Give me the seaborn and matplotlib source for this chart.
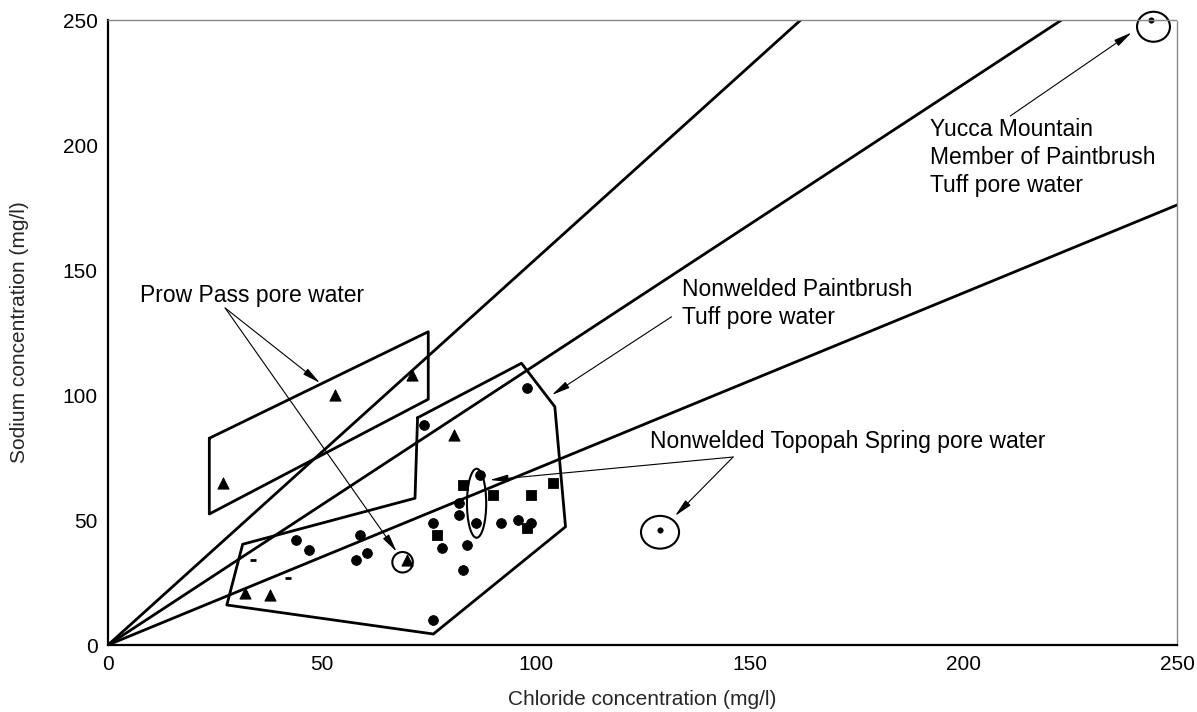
import matplotlib
matplotlib.use("Agg")
import matplotlib.pyplot as plt
from matplotlib.patches import Ellipse
import numpy as np
import pandas as pd
import seaborn as sns

sns.set_style("white")
plt.rcParams['font.family'] = ['Liberation Sans', 'DejaVu Sans']
plt.rcParams['text.color'] = 'black'

# pore water samples (Cl, Na) in mg/l
tri_cl = [27, 53, 71, 81, 32, 38, 70]
tri_na = [65, 100, 108, 84, 21, 20, 34]
dot_cl = [98, 74, 87, 82, 82, 76, 86, 92, 96, 99, 59, 44, 47, 60.5, 58, 78, 84, 83, 76]
dot_na = [103, 88, 68, 57, 52, 49, 49, 49, 50, 49, 44, 42, 38, 37, 34, 39, 40, 30, 10]
sq_cl = [83, 90, 99, 104, 98, 77]
sq_na = [64, 60, 60, 65, 47, 44]
dash_cl = [34, 42]
dash_na = [34, 27]
small_cl = [129, 244]
small_na = [46, 250]

# reference lines from origin: end points
line_end_cl = [162, 223, 250]
line_end_na = [250, 250, 176]

# outlined groups
prow_cl = [23.7, 74.9, 74.9, 23.7, 23.7]
prow_na = [82.7, 125.3, 98.3, 52.4, 82.7]
paint_cl = [72.4, 96.7, 104.5, 107, 76.1, 27.8, 31.5, 71.8, 72.4]
paint_na = [90.9, 112.7, 95.3, 47.3, 4.4, 16, 40.3, 58.7, 90.9]

fig = plt.figure(figsize=(11.97, 7.12), dpi=100)
ax = fig.add_axes([0.0902, 0.0941, 0.8931, 0.8778])

for xe, ye in zip(line_end_cl, line_end_na):
    sns.lineplot(x=[0, xe], y=[0, ye], ax=ax, color='black', lw=2.0, sort=False,
                 estimator=None)

sns.lineplot(x=prow_cl, y=prow_na, ax=ax, color='black', lw=2.0, sort=False, estimator=None)
sns.lineplot(x=paint_cl, y=paint_na, ax=ax, color='black', lw=2.0, sort=False, estimator=None)

sns.scatterplot(x=tri_cl, y=tri_na, ax=ax, marker='^', s=65, color='black', edgecolor='black')
sns.scatterplot(x=dot_cl, y=dot_na, ax=ax, marker='o', s=50, color='black', edgecolor='black')
sns.scatterplot(x=sq_cl, y=sq_na, ax=ax, marker='s', s=55, color='black', edgecolor='black')
sns.scatterplot(x=dash_cl, y=dash_na, ax=ax, marker='_', s=25, color='black', linewidth=2)
sns.scatterplot(x=small_cl, y=small_na, ax=ax, marker='o', s=16, color='black',
                edgecolor='black', clip_on=False)

# rings around highlighted samples
for (cx, cy, w, h) in [(86.2, 56.7, 4.5, 27.6), (68.9, 33.1, 4.8, 8.2),
                       (129.1, 45.1, 8.9, 13.1), (244.5, 247.3, 7.7, 12)]:
    ax.add_patch(Ellipse((cx, cy), w, h, fill=False, ec='black', lw=1.5, clip_on=False))

arrow = dict(arrowstyle='-|>,head_length=1.1,head_width=0.22', color='black', lw=0.8,
             shrinkA=0, shrinkB=0)
fs = 16.5
ax.text(7.5, 144.5, 'Prow Pass pore water', fontsize=fs, va='top')
ax.annotate('', xy=(49.6, 104.8), xytext=(27.4, 134.8), arrowprops=arrow)
ax.annotate('', xy=(67.5, 37.3), xytext=(27.4, 134.8), arrowprops=arrow)

ax.text(134.2, 147, 'Nonwelded Paintbrush\nTuff pore water', fontsize=fs, va='top',
        linespacing=1.3)
ax.annotate('', xy=(103.8, 100), xytext=(131.8, 131.3), arrowprops=arrow)

ax.text(126.8, 86, 'Nonwelded Topopah Spring pore water', fontsize=fs, va='top')
ax.annotate('', xy=(89.3, 66), xytext=(146.2, 75.2), arrowprops=arrow)
ax.annotate('', xy=(132.6, 51.6), xytext=(146.2, 75.2), arrowprops=arrow)

ax.text(192.2, 211, 'Yucca Mountain\nMember of Paintbrush\nTuff pore water', fontsize=fs,
        va='top', linespacing=1.3)
ax.annotate('', xy=(239.4, 245), xytext=(211, 211.6), arrowprops=arrow)

ax.set_xlim(0, 250)
ax.set_ylim(0, 250)
ax.set_xticks(range(0, 251, 50))
ax.set_yticks(range(0, 251, 50))
ax.tick_params(direction='inout', length=8, width=1.2, labelsize=15, colors='black')
ax.set_xlabel('Chloride concentration (mg/l)', fontsize=15, labelpad=11)
ax.set_ylabel('Sodium concentration (mg/l)', fontsize=15, labelpad=24)

for side in ['left', 'bottom']:
    ax.spines[side].set_color('black')
    ax.spines[side].set_linewidth(1.6)
for side in ['top', 'right']:
    ax.spines[side].set_color('#888888')
    ax.spines[side].set_linewidth(1.0)
    ax.spines[side].set_linestyle((0, (1, 1)))

fig.savefig('out.png', dpi=100)
